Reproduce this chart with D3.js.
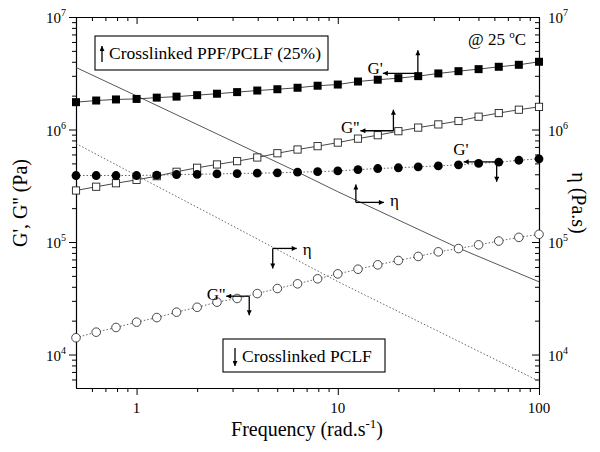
<!DOCTYPE html>
<html>
<head>
<meta charset="utf-8">
<script src="https://cdn.jsdelivr.net/npm/d3@7"></script>
<style>
  body { margin: 0; background: #fff; }
</style>
</head>
<body>
<svg id="chart"></svg>
<script>
// frequency sweep (rad/s)
const freq = [0.5, 0.63, 0.79, 1.0, 1.26, 1.58, 2.0, 2.51, 3.16, 3.98, 5.01, 6.31,
              7.94, 10.0, 12.6, 15.8, 20.0, 25.1, 31.6, 39.8, 50.1, 63.1, 79.4, 100];

// crosslinked PPF/PCLF (25%)
const gpPPF  = [1.75e6, 1.81e6, 1.85e6, 1.87e6, 1.92e6, 1.96e6, 2.02e6, 2.08e6, 2.15e6, 2.22e6, 2.28e6, 2.35e6,
                2.45e6, 2.51e6, 2.67e6, 2.77e6, 2.86e6, 2.98e6, 3.15e6, 3.30e6, 3.44e6, 3.61e6, 3.76e6, 4.0e6];
const gppPPF = [2.87e5, 3.10e5, 3.33e5, 3.57e5, 3.85e5, 4.21e5, 4.57e5, 4.89e5, 5.23e5, 5.64e5, 6.15e5, 6.64e5,
                7.11e5, 7.65e5, 8.3e5, 8.9e5, 9.66e5, 1.04e6, 1.11e6, 1.19e6, 1.30e6, 1.40e6, 1.50e6, 1.59e6];
const etaFreqPPF = [0.5, 1, 6.3, 10, 40, 100];
const etaPPF     = [3.56e6, 1.99e6, 4.2e5, 2.8e5, 8.8e4, 4.43e4];

// crosslinked PCLF
const gpPCLF  = [3.90e5, 3.90e5, 3.90e5, 3.90e5, 3.93e5, 3.98e5, 4.0e5, 4.03e5, 4.06e5, 4.09e5, 4.12e5, 4.18e5,
                 4.22e5, 4.28e5, 4.4e5, 4.5e5, 4.57e5, 4.66e5, 4.75e5, 4.85e5, 4.99e5, 5.12e5, 5.33e5, 5.49e5];
const gppPCLF = [1.41e4, 1.58e4, 1.74e4, 1.94e4, 2.13e4, 2.38e4, 2.63e4, 2.92e4, 3.15e4, 3.48e4, 3.86e4, 4.25e4,
                 4.71e4, 5.21e4, 5.73e4, 6.27e4, 6.85e4, 7.44e4, 8.18e4, 8.75e4, 9.44e4, 1.02e5, 1.10e5, 1.17e5];
const etaFreqPCLF = [0.5, 1, 2.62, 10, 100];
const etaPCLF     = [7.5e5, 3.9e5, 1.58e5, 4.45e4, 5.8e3];

// ticks
const xMajor = [1, 10, 100];
const xMinor = [0.6, 0.7, 0.8, 0.9, 2, 3, 4, 5, 6, 7, 8, 9, 20, 30, 40, 50, 60, 70, 80, 90];
const yMajor = [1e4, 1e5, 1e6, 1e7];
const yExp   = ["4", "5", "6", "7"];

const FONT = "'Liberation Serif', 'DejaVu Serif', serif";

const svg = d3.select("#chart").attr("width", 600).attr("height", 452)
  .style("font-family", FONT);
svg.append("rect").attr("width", 600).attr("height", 452).attr("fill", "#fff");

const L = 76, R = 539, T = 17, B = 388;
const x = d3.scaleLog().domain([0.5, 100]).range([L, R]);
const y = d3.scaleLog().domain([5040, 1e7]).range([B, T]);

const yMinor = [];
[1e3, 1e4, 1e5, 1e6].forEach(d => {
  for (let m = 2; m <= 9; m++) if (m * d >= 5040 && m * d < 1e7) yMinor.push(m * d);
});

// arrow head
svg.append("defs").append("marker")
  .attr("id", "ah")
  .attr("viewBox", "0 0 10 10")
  .attr("refX", 10).attr("refY", 5)
  .attr("markerUnits", "userSpaceOnUse")
  .attr("markerWidth", 9).attr("markerHeight", 5)
  .attr("orient", "auto")
  .append("path").attr("d", "M0,0L10,5L0,10z").attr("fill", "#000");

// axes
function axisStyle(g) {
  g.selectAll("path.domain").attr("stroke", "#000").attr("stroke-width", 1.1);
  g.selectAll(".tick line").attr("stroke", "#000").attr("stroke-width", 1);
  g.selectAll(".tick text").remove();
}
const blank = () => "";

svg.append("g").attr("transform", `translate(0,${B})`)
  .call(d3.axisBottom(x).tickValues(xMajor).tickSize(7).tickSizeOuter(0).tickFormat(blank)).call(axisStyle);
svg.append("g").attr("transform", `translate(0,${B})`)
  .call(d3.axisBottom(x).tickValues(xMinor).tickSize(4).tickSizeOuter(0).tickFormat(blank)).call(axisStyle);
svg.append("g").attr("transform", `translate(0,${T})`)
  .call(d3.axisTop(x).tickValues(xMajor).tickSize(-7).tickSizeOuter(0).tickFormat(blank)).call(axisStyle);
svg.append("g").attr("transform", `translate(0,${T})`)
  .call(d3.axisTop(x).tickValues(xMinor).tickSize(-4).tickSizeOuter(0).tickFormat(blank)).call(axisStyle);

svg.append("g").attr("transform", `translate(${L},0)`)
  .call(d3.axisLeft(y).tickValues(yMajor).tickSize(7).tickSizeOuter(0).tickFormat(blank)).call(axisStyle);
svg.append("g").attr("transform", `translate(${L},0)`)
  .call(d3.axisLeft(y).tickValues(yMinor).tickSize(4).tickSizeOuter(0).tickFormat(blank)).call(axisStyle);
svg.append("g").attr("transform", `translate(${R},0)`)
  .call(d3.axisRight(y).tickValues(yMajor).tickSize(-7).tickSizeOuter(0).tickFormat(blank)).call(axisStyle);
svg.append("g").attr("transform", `translate(${R},0)`)
  .call(d3.axisRight(y).tickValues(yMinor).tickSize(-4).tickSizeOuter(0).tickFormat(blank)).call(axisStyle);

function txt(parent) {
  return parent.append("text").style("font-family", FONT).attr("fill", "#000");
}

// tick labels
xMajor.forEach(d => {
  txt(svg).attr("x", x(d)).attr("y", 413)
    .attr("text-anchor", "middle").style("font-size", "15px").text(d);
});
function powLabel(anchor, xpos) {
  yMajor.forEach((d, i) => {
    const t = txt(svg).attr("x", xpos).attr("y", y(d) + 6)
      .attr("text-anchor", anchor).style("font-size", "15px");
    t.append("tspan").text("10");
    t.append("tspan").attr("dy", -7).style("font-size", "10px").text(yExp[i]);
  });
}
powLabel("end", 66);
powLabel("start", 548);

// axis titles
const xt = txt(svg).attr("x", 307).attr("y", 436)
  .attr("text-anchor", "middle").style("font-size", "20px");
xt.append("tspan").text("Frequency (rad.s");
xt.append("tspan").attr("dy", -8).style("font-size", "13px").text("-1");
xt.append("tspan").attr("dy", 8).text(")");

txt(svg).attr("transform", "translate(27,203) rotate(-90)")
  .attr("text-anchor", "middle").style("font-size", "20px")
  .text("G', G'' (Pa)");
txt(svg).attr("transform", "translate(572,203) rotate(90)")
  .attr("text-anchor", "middle").style("font-size", "20px")
  .text("\u03b7 (Pa.s)");

// lines
const line = d3.line().x(d => x(d[0])).y(d => y(d[1]));
const plot = svg.append("g");

plot.append("path").datum(d3.zip(etaFreqPPF, etaPPF)).attr("d", line)
  .attr("fill", "none").attr("stroke", "#444").attr("stroke-width", 0.9);
plot.append("path").datum(d3.zip(etaFreqPCLF, etaPCLF)).attr("d", line)
  .attr("fill", "none").attr("stroke", "#555").attr("stroke-width", 0.9).attr("stroke-dasharray", "1.5,2");

plot.append("path").datum(d3.zip(freq, gpPPF)).attr("d", line)
  .attr("fill", "none").attr("stroke", "#333").attr("stroke-width", 0.9);
plot.append("path").datum(d3.zip(freq, gppPPF)).attr("d", line)
  .attr("fill", "none").attr("stroke", "#333").attr("stroke-width", 0.9);
plot.append("path").datum(d3.zip(freq, gpPCLF)).attr("d", line)
  .attr("fill", "none").attr("stroke", "#555").attr("stroke-width", 0.9).attr("stroke-dasharray", "1.5,2");
plot.append("path").datum(d3.zip(freq, gppPCLF)).attr("d", line)
  .attr("fill", "none").attr("stroke", "#555").attr("stroke-width", 0.9).attr("stroke-dasharray", "1.5,2");

// markers
const sq = 8;
plot.selectAll(".gpP").data(d3.zip(freq, gpPPF)).enter().append("rect")
  .attr("x", d => x(d[0]) - sq / 2).attr("y", d => y(d[1]) - sq / 2)
  .attr("width", sq).attr("height", sq).attr("fill", "#000");
plot.selectAll(".gppP").data(d3.zip(freq, gppPPF)).enter().append("rect")
  .attr("x", d => x(d[0]) - 3.6).attr("y", d => y(d[1]) - 3.6)
  .attr("width", 7.2).attr("height", 7.2).attr("fill", "#fff")
  .attr("stroke", "#222").attr("stroke-width", 0.9);
plot.selectAll(".gpC").data(d3.zip(freq, gpPCLF)).enter().append("circle")
  .attr("cx", d => x(d[0])).attr("cy", d => y(d[1])).attr("r", 4.4).attr("fill", "#000");
plot.selectAll(".gppC").data(d3.zip(freq, gppPCLF)).enter().append("circle")
  .attr("cx", d => x(d[0])).attr("cy", d => y(d[1])).attr("r", 4.3)
  .attr("fill", "#fff").attr("stroke", "#333").attr("stroke-width", 0.9);

// annotation arrows: corner (f, v), horizontal arrow hx, vertical arrow vy
const notes = [
  { f: 25,   v: 3.16e6, hx: -35, vy: -23, label: "G'",      tx: -35, ty: 1,  anchor: "end" },
  { f: 18.9, v: 9.75e5, hx: -33, vy: -21, label: "G''",     tx: -34, ty: 2,  anchor: "end" },
  { f: 61.6, v: 5.16e5, hx: -33, vy: 20,  label: "G'",      tx: -28, ty: -7, anchor: "end" },
  { f: 12.3, v: 2.25e5, hx: 28,  vy: -18, label: "\u03b7",  tx: 34,  ty: 4,  anchor: "start" },
  { f: 4.75, v: 8.77e4, hx: 24,  vy: 20,  label: "\u03b7",  tx: 30,  ty: 7,  anchor: "start" },
  { f: 3.63, v: 3.3e4,  hx: -23, vy: 19,  label: "G''",     tx: -24, ty: 4,  anchor: "end" }
];
const ng = svg.append("g");
notes.forEach(n => {
  const cx = x(n.f), cy = y(n.v);
  ng.append("line").attr("x1", cx).attr("y1", cy).attr("x2", cx + n.hx).attr("y2", cy)
    .attr("stroke", "#000").attr("stroke-width", 1.3).attr("marker-end", "url(#ah)");
  ng.append("line").attr("x1", cx).attr("y1", cy).attr("x2", cx).attr("y2", cy + n.vy)
    .attr("stroke", "#000").attr("stroke-width", 1.3).attr("marker-end", "url(#ah)");
  txt(ng).attr("x", cx + n.tx).attr("y", cy + n.ty)
    .attr("text-anchor", n.anchor).style("font-size", "17px").text(n.label);
});

// legend boxes
function legendBox(bx, by, bw, bh, up, label) {
  const g = svg.append("g");
  g.append("rect").attr("x", bx).attr("y", by).attr("width", bw).attr("height", bh)
    .attr("fill", "#fff").attr("stroke", "#000").attr("stroke-width", 1.1);
  const ax = bx + 7 + (up ? 0 : 5);
  g.append("line").attr("x1", ax).attr("x2", ax)
    .attr("y1", up ? by + 26 : by + 9).attr("y2", up ? by + 10 : by + 27)
    .attr("stroke", "#000").attr("stroke-width", 1.3).attr("marker-end", "url(#ah)");
  txt(g).attr("x", ax + 7).attr("y", by + 23).style("font-size", "17.5px").text(label);
}
legendBox(95, 36, 233, 34, true, "Crosslinked PPF/PCLF (25%)");
legendBox(223, 339, 162, 33, false, "Crosslinked PCLF");

// temperature
const tt = txt(svg).attr("x", 468).attr("y", 45).style("font-size", "17px");
tt.append("tspan").text("@ 25 ");
tt.append("tspan").attr("dy", -7).style("font-size", "11px").text("o");
tt.append("tspan").attr("dy", 7).text("C");
</script>
</body>
</html>
